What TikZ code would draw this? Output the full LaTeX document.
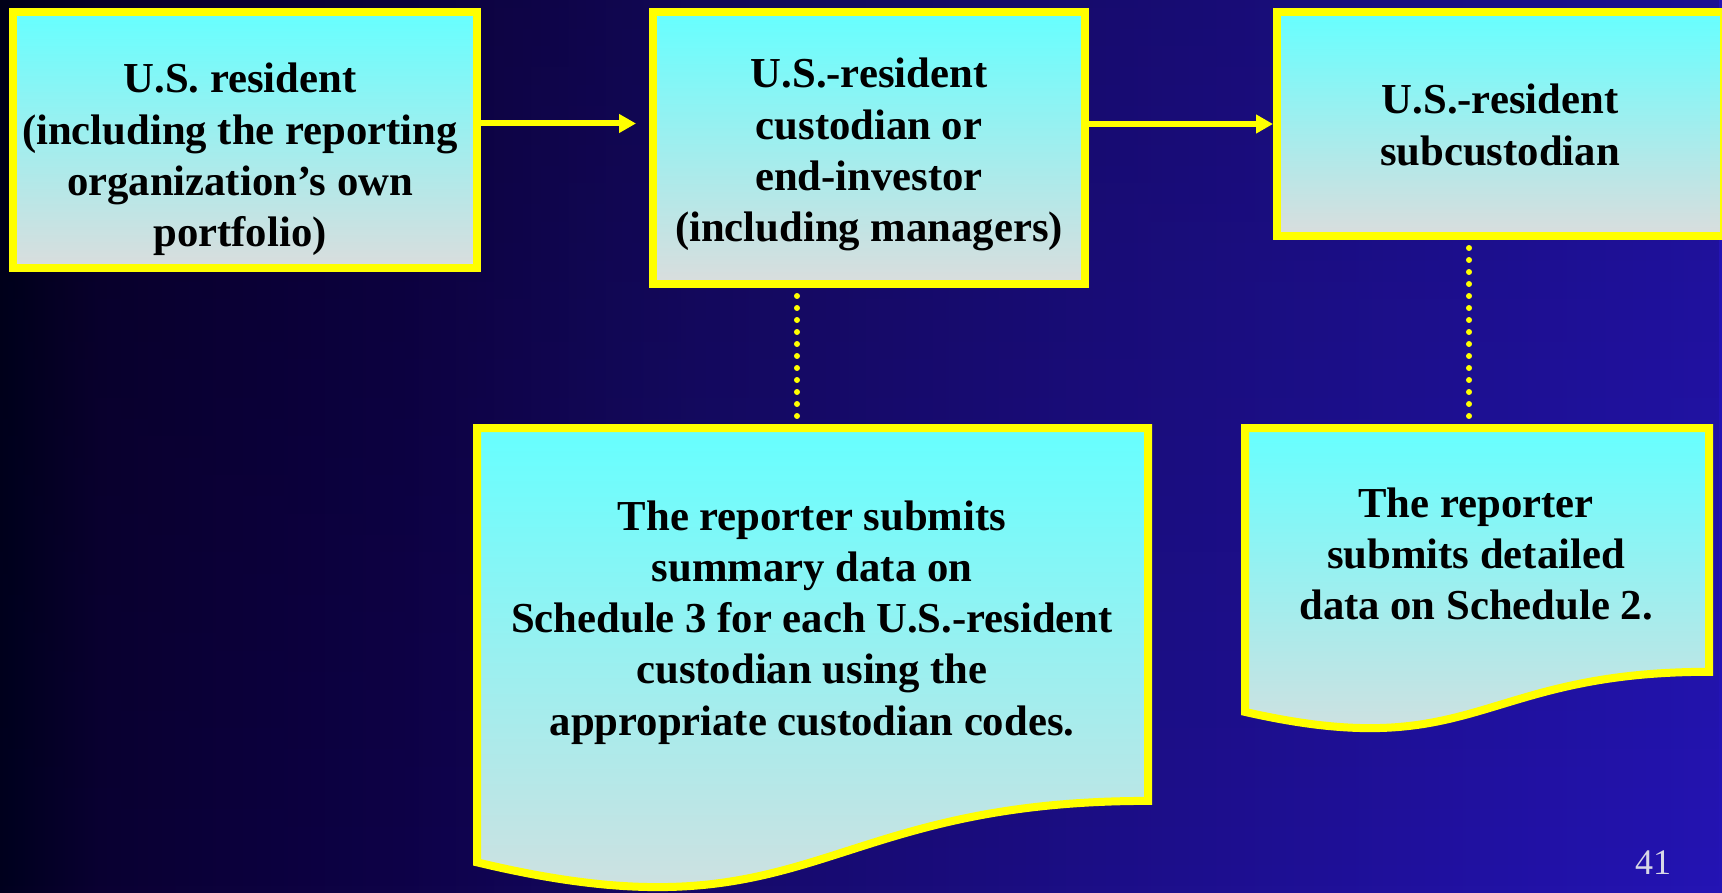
\documentclass[tikz,border=0pt]{standalone}
\usepackage{fontspec}
\setmainfont{Liberation Serif}
\usetikzlibrary{arrows.meta,calc,fadings}
\definecolor{bg0}{RGB}{0,0,30}
\definecolor{bg1}{RGB}{10,0,50}
\definecolor{bg2}{RGB}{14,2,72}
\definecolor{bg3}{RGB}{22,10,105}
\definecolor{bg4}{RGB}{28,14,135}
\definecolor{bg5}{RGB}{36,20,180}
\definecolor{yel}{RGB}{255,255,0}
\definecolor{cyanT}{RGB}{102,255,255}
\definecolor{grayB}{RGB}{218,221,221}
\definecolor{numgray}{RGB}{215,215,230}
\pgfdeclarehorizontalshading{bgshade}{100bp}{color(0bp)=(bg0); color(25bp)=(bg0); color(27.9bp)=(bg1); color(36.6bp)=(bg2); color(45.3bp)=(bg3); color(56.9bp)=(bg4); color(75bp)=(bg5); color(100bp)=(bg5)}
\begin{document}
\begin{tikzpicture}[x=0.5pt,y=-0.5pt,
  box/.style={draw=yel, line width=4pt, top color=cyanT, bottom color=grayB, rectangle, inner sep=0pt},
  doc/.style={draw=yel, line width=4pt, top color=cyanT, bottom color=grayB, line join=miter},
  lbl/.style={anchor=base, inner sep=0pt, text=black, font=\fontsize{21.35}{25.65}\selectfont\bfseries},
  arr/.style={draw=yel, line width=3pt, -{Triangle[length=8.5pt,width=9pt]}},
  dotline/.style={draw=yel, line width=3pt, line cap=round, dash pattern=on 0pt off 6pt}]
\useasboundingbox (0,0) rectangle (1722,893);
\shade[shading=bgshade] (0,0) rectangle (1722,893);
\fill[black, opacity=0.18, path fading=south] (0,0) rectangle (1722,893);

% named coordinates for the dotted connectors
\coordinate (d2a) at (797,284);
\coordinate (d4t) at (797,428);
\coordinate (d3a) at (1469,236);
\coordinate (d5t) at (1469,428);
\draw[dotline] (d2a) -- (d4t);
\draw[dotline] (d3a) -- (d5t);

% top boxes
\node[box, minimum width=232pt, minimum height=128pt] (b1) at (245,140) {};
\node[box, minimum width=216pt, minimum height=136pt] (b2) at (869,148) {};
\node[box, minimum width=223.5pt, minimum height=112pt] (b3) at (1500.5,124) {};

% document shapes
\draw[doc] (477,428) -- (1148,428) -- (1148,800.9)
  .. controls (812.5,800.9) and (812.5,943) .. (477,862.3) -- cycle;
\draw[doc] (1245,428) -- (1709,428) -- (1709,671.8)
  .. controls (1477,671.8) and (1477,764.7) .. (1245,711.9) -- cycle;

% arrows
\draw[arr, shorten >=6.5pt] ($(b1.east)+(0,-16.5)$) -- ($(b2.west)+(0,-24.5)$);
\draw[arr] ($(b2.east)+(0,-24)$) -- (b3.west);

% texts
\node[lbl] (t1) at (240,93) {\begin{tabular}[t]{@{}c@{}}U.S. resident\\(including the reporting\\organization’s own\\portfolio)\end{tabular}};
\node[lbl] (t2) at (869,88) {\begin{tabular}[t]{@{}c@{}}U.S.-resident\\custodian or\\end-investor\\(including managers)\end{tabular}};
\node[lbl] (t3) at (1500,114) {\begin{tabular}[t]{@{}c@{}}U.S.-resident\\subcustodian\end{tabular}};
\node[lbl] (t4) at (812,530) {\begin{tabular}[t]{@{}c@{}}The reporter submits\\summary data on\\Schedule 3 for each U.S.-resident\\custodian using the\\appropriate custodian codes.\end{tabular}};
\node[lbl] (t5) at (1476,517) {\begin{tabular}[t]{@{}c@{}}The reporter\\submits detailed\\data on Schedule 2.\end{tabular}};

\node[anchor=base, inner sep=0pt, text=numgray, font=\fontsize{18}{20}\selectfont] (pg) at (1653,874) {41};
\end{tikzpicture}
\end{document}
